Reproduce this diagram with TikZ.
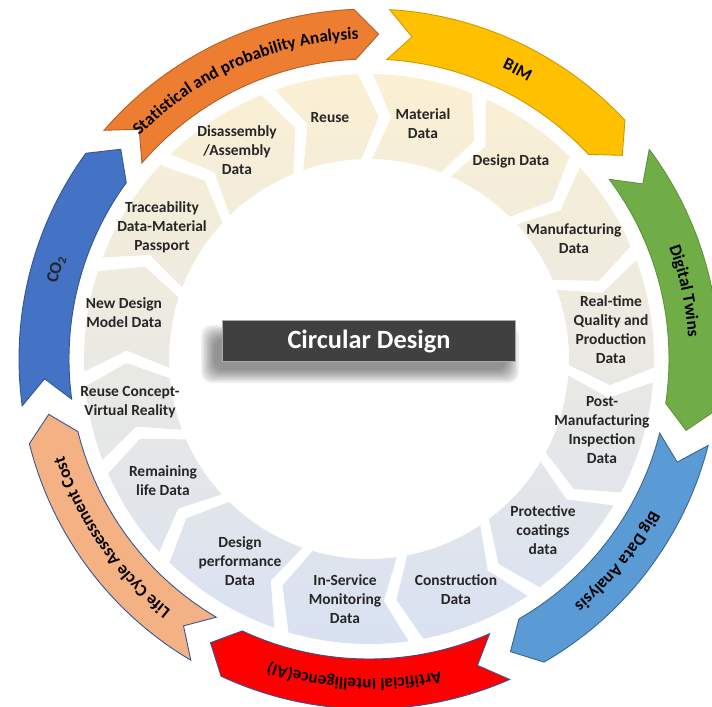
\documentclass[tikz,border=0pt]{standalone}
\usepackage{fontspec}
\setmainfont{Carlito}
\usetikzlibrary{decorations.text}

\definecolor{statorange}{HTML}{ED7D31}
\definecolor{bimgold}{HTML}{FFC000}
\definecolor{twingreen}{HTML}{70AD47}
\definecolor{datablue}{HTML}{5B9BD5}
\definecolor{aired}{HTML}{FF0000}
\definecolor{lcapeach}{HTML}{F4B183}
\definecolor{cotwoblue}{HTML}{4472C4}
\definecolor{edgenavy}{HTML}{2F5597}
\definecolor{ringtop}{HTML}{FBF0D3}
\definecolor{ringbot}{HTML}{D9E2F3}
\definecolor{titlegray}{HTML}{404040}

\newcommand{\ringfont}{\bfseries\fontsize{9.8}{12}\selectfont}

\begin{document}
\begin{tikzpicture}[
    x=0.02cm, y=0.02cm,
    % styles for the labels, the outer ring and the title
    lbl/.style={font=\bfseries\fontsize{8.8}{10.8}\selectfont, align=center, inner sep=0pt, text=black!85},
    ringlbl/.style={font=\ringfont, inner sep=0pt, text=black!85},
    ringtext/.style={decorate, decoration={text along path, text align=center, text={|\ringfont|#1}}},
    arrowseg/.style={line width=0.5pt},
    titlebox/.style={fill=titlegray, draw=gray!65, line width=0.8pt, minimum width=5.86cm, minimum height=0.82cm, inner sep=0pt, text=white, font=\bfseries\fontsize{15}{18}\selectfont}
]
    \useasboundingbox (-369,-347) rectangle (343,359);

    % outer ring of chevrons: tail angle / head angle / fill / edge
    \foreach \t/\h/\fc/\dc in {139.2/92.5/statorange/statorange!75!black,
                               86.6/43/bimgold/bimgold!80!black,
                               36.8/-8.5/twingreen/twingreen!85!black,
                               -14.3/-60/datablue/datablue!65!black,
                               -66.3/-115/aired/edgenavy,
                               -120.6/-166/lcapeach/edgenavy,
                               -172.3/-216/cotwoblue/cotwoblue!75!black}
        \draw[arrowseg, fill=\fc, draw=\dc] (\t:350) arc[start angle=\t, end angle=\h, radius=350]
            -- ({\h-4.2}:325) -- (\h:300) arc[start angle=\h, end angle=\t, radius=300]
            -- ({\t-4.2}:325) -- cycle;

    % text running round the outer ring
    \path[ringtext={Statistical and probability Analysis}] (148.85:320) arc[start angle=148.85, end angle=78.85, radius=320];
    \path[ringtext={BIM}] (97.8:320) arc[start angle=97.8, end angle=27.8, radius=320];
    \path[ringtext={Digital Twins}] (47.15:320) arc[start angle=47.15, end angle=-22.85, radius=320];
    \path[ringtext={Big Data Analysis}] (-4.15:320) arc[start angle=-4.15, end angle=-74.15, radius=320];
    \path[ringtext={Artificial Intelligence(AI)}] (-57.65:320) arc[start angle=-57.65, end angle=-127.65, radius=320];
    \path[ringtext={Life Cycle Assessment Cost}] (-110.3:320) arc[start angle=-110.3, end angle=-180.3, radius=320];
    \node[ringlbl, rotate=74] (co2) at (164:325) {CO\textsubscript{2}};

    % inner ring of data chevrons, one shading over the whole ring
    \foreach \t/\h in {109.2/92.2, 89.2/68.8, 65.8/45.3, 42.3/23.3, 20.3/-1.7,
                       -4.7/-27.9, -30.9/-53.2, -56.2/-79, -82/-106.4, -109.4/-134.4,
                       -137.4/-156.3, -159.3/-174.5, -177.5/-197.9, -200.9/-222.9, -225.9/-247.8}
    {
        \begin{scope}
            \clip (\t:285) arc[start angle=\t, end angle=\h, radius=285]
                -- ({\h-4.5}:242.5) -- (\h:200) arc[start angle=\h, end angle=\t, radius=200]
                -- ({\t-4.5}:242.5) -- cycle;
            \shade[top color=ringtop, bottom color=ringbot] (-285,-285) rectangle (285,285);
        \end{scope}
    }

    \node[lbl] (reuse) at (-39,241) {Reuse};
    \node[lbl] (matdata) at (54,235) {Material\\Data};
    \node[lbl] (desdata) at (142,198) {Design Data};
    \node[lbl] (mfgdata) at (205,120) {Manufacturing\\Data};
    \node[lbl] (rtqual) at (242,29) {Real-time\\Quality and\\Production\\Data};
    \node[lbl] (postmfg) at (233,-71) {Post-\\Manufacturing\\Inspection\\Data};
    \node[lbl] (coating) at (174,-171) {Protective\\coatings\\data};
    \node[lbl] (constr) at (87,-231) {Construction\\Data};
    \node[lbl] (inserv) at (-24,-240) {In-Service\\Monitoring\\Data};
    \node[lbl] (desperf) at (-129,-202) {Design\\performance\\Data};
    \node[lbl] (remlife) at (-206,-122) {Remaining\\life Data};
    \node[lbl] (vrreuse) at (-239,-43) {Reuse Concept-\\Virtual Reality};
    \node[lbl] (newdes) at (-245,46) {New Design\\Model Data};
    \node[lbl] (trace) at (-207,132) {Traceability\\Data-Material\\Passport};
    \node[lbl] (disasm) at (-132,209) {Disassembly\\/Assembly\\Data};

    % soft shadow under the title
    \foreach \k in {0,...,8}
        \fill[black, opacity=0.06, rounded corners=6pt]
            ({-168+1.6*\k},{-24+1.6*\k}) rectangle ({150-1.6*\k},{34-1.6*\k});
    \node[titlebox] (circdesign) at (0,18) {Circular Design};
\end{tikzpicture}
\end{document}
